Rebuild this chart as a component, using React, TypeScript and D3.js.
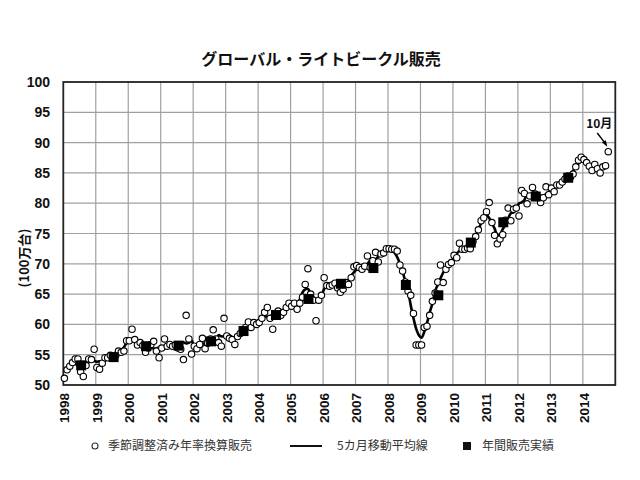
import React from "react";
import * as d3 from "d3";

// ---- data ----
const startYear = 1998;
// Seasonally adjusted annualized monthly sales (millions), Jan 1998 - Oct 2014
const monthlySales: number[] = [
  51.1, 52.5, 53.1, 53.7, 54.3, 54.3, 52.2, 51.4, 53.2, 54.3, 54.2, 55.9, // 1998
  52.9, 52.6, 53.6, 54.5, 54.5, 54.9, 54.6, 54.9, 55.6, 55.4, 55.6, 57.3, // 1999
  57.3, 59.2, 57.5, 56.6, 57.0, 56.5, 55.4, 56.1, 56.7, 57.2, 55.6, 54.5, // 2000
  56.1, 57.6, 56.4, 56.7, 56.4, 56.6, 56.1, 55.9, 54.2, 61.5, 57.6, 55.1, // 2001
  56.4, 56.0, 56.7, 57.7, 56.0, 56.9, 57.6, 59.1, 57.6, 57.0, 56.4, 61.0, // 2002
  58.1, 57.7, 57.5, 56.7, 58.0, 58.5, 59.0, 59.5, 60.4, 59.5, 60.3, 60.0, // 2003
  60.3, 61.0, 62.0, 62.8, 61.0, 59.2, 61.8, 62.2, 61.5, 62.0, 62.8, 63.5, // 2004
  63.0, 63.5, 62.5, 63.5, 64.5, 66.6, 69.2, 65.0, 64.0, 60.6, 64.0, 64.8, // 2005
  67.7, 66.4, 66.3, 66.5, 66.8, 66.0, 65.3, 65.8, 66.9, 66.6, 67.7, 69.5, // 2006
  69.7, 69.4, 69.1, 69.6, 71.3, 69.4, 70.5, 71.9, 70.3, 71.6, 71.8, 72.5, // 2007
  72.5, 72.4, 72.4, 72.1, 69.8, 68.8, 67.0, 65.5, 64.8, 61.8, 56.6, 56.6, // 2008
  56.6, 59.5, 59.7, 61.5, 63.8, 65.2, 67.0, 69.8, 66.9, 69.1, 69.9, 70.2, // 2009
  71.4, 71.0, 73.4, 72.4, 72.4, 72.6, 72.5, 73.7, 74.5, 75.6, 77.1, 77.6, // 2010
  78.6, 80.1, 76.8, 74.7, 73.3, 74.1, 74.8, 77.2, 79.2, 77.1, 79.0, 79.2, // 2011
  77.9, 82.1, 81.6, 79.9, 81.2, 82.6, 81.5, 81.0, 80.1, 80.9, 82.7, 81.4, // 2012
  82.5, 81.9, 83.0, 83.0, 83.5, 84.0, 84.5, 84.3, 84.8, 86.0, 87.1, 87.6, // 2013
  87.2, 86.7, 86.1, 85.4, 86.4, 85.7, 85.0, 86.0, 86.2, 88.5,             // 2014
];

const annualYears = [1998, 1999, 2000, 2001, 2002, 2003, 2004, 2005, 2006, 2007, 2008, 2009, 2010, 2011, 2012, 2013];
const annualSales = [53.25, 54.6, 56.4, 56.5, 57.2, 58.9, 61.55, 64.2, 66.7, 69.3, 66.5, 64.8, 73.5, 76.85, 81.1, 84.2];

const yearTicks = [1998, 1999, 2000, 2001, 2002, 2003, 2004, 2005, 2006, 2007, 2008, 2009, 2010, 2011, 2012, 2013, 2014];
const valueTicks = [50, 55, 60, 65, 70, 75, 80, 85, 90, 95, 100];

const titleText = "グローバル・ライトビークル販売";
const yLabel = "(100万台)";
const legendLabels = ["季節調整済み年率換算販売", "5カ月移動平均線", "年間販売実績"];
const noteLabel = "10月";

const NUM_FONT = "'Liberation Sans', Arial, sans-serif";
const JP_FONT = "'Noto Sans CJK JP', 'Noto Sans', sans-serif";

export default function App() {
  const W = 640, H = 480;
  const left = 63.3, right = 615.3, top = 82, bottom = 385;
  const x = d3.scaleLinear().domain([1998, 2015]).range([left, right]);
  const y = d3.scaleLinear().domain([50, 100]).range([bottom, top]);

  const pts = monthlySales.map((v, i) => ({ t: startYear + (i + 0.4) / 12, v }));
  const ma = pts
    .map((p, i) =>
      i >= 2 && i < pts.length - 2
        ? { t: p.t, v: d3.mean(pts.slice(i - 2, i + 3), (d) => d.v) as number }
        : null
    )
    .filter((d): d is { t: number; v: number } => d !== null);

  const line = d3
    .line<{ t: number; v: number }>()
    .x((d) => x(d.t))
    .y((d) => y(d.v))
    .curve(d3.curveCatmullRom.alpha(0.5));

  const annual = annualYears.map((yr, i) => ({ t: yr + 0.55, v: annualSales[i] }));
  const last = pts[pts.length - 1];
  const lx = x(last.t), ly = y(last.v);

  const sq = 10;

  return (
    <svg
      width={W}
      height={H}
      style={{ position: "absolute", left: 0, top: 0, background: "#fff" }}
    >
      <rect x={0} y={0} width={W} height={H} fill="#fff" />
      {/* title */}
      <text x={321} y={65} textAnchor="middle" fontFamily={JP_FONT} fontWeight="bold" fontSize={16} fill="#111">
        {titleText}
      </text>

      {/* grid */}
      {yearTicks.slice(1).map((yr) => (
        <line key={"gx" + yr} x1={x(yr)} x2={x(yr)} y1={top} y2={bottom} stroke="#a0a0a0" strokeWidth={1.2} />
      ))}
      {valueTicks.slice(1, -1).map((v) => (
        <line key={"gy" + v} x1={left} x2={right} y1={y(v)} y2={y(v)} stroke="#a0a0a0" strokeWidth={1.2} />
      ))}
      <rect x={left} y={top} width={right - left} height={bottom - top} fill="none" stroke="#222" strokeWidth={1.8} />

      {/* y tick labels */}
      {valueTicks.map((v) => (
        <text key={"yl" + v} x={50} y={y(v)} dy="0.36em" textAnchor="end" fontFamily={NUM_FONT} fontWeight="bold" fontSize={14} fill="#111">
          {v}
        </text>
      ))}
      {/* x tick labels */}
      {yearTicks.map((yr) => (
        <text
          key={"xl" + yr}
          transform={`translate(${x(yr) + 1},393) rotate(-90)`}
          dy="0.36em"
          textAnchor="end"
          fontFamily={NUM_FONT}
          fontWeight="bold"
          fontSize={13.5}
          fill="#111"
        >
          {yr}
        </text>
      ))}
      {/* y axis label */}
      <text transform="translate(24,258) rotate(-90)" dy="0.36em" textAnchor="middle" fontFamily={JP_FONT} fontWeight="bold" fontSize={13} fill="#111">
        {yLabel}
      </text>

      {/* moving average line */}
      <path d={line(ma) || ""} fill="none" stroke="#000" strokeWidth={2.6} strokeLinejoin="round" />

      {/* monthly points */}
      {pts.map((p, i) => (
        <circle key={"p" + i} cx={x(p.t)} cy={y(p.v)} r={3.2} fill="#fff" stroke="#000" strokeWidth={1.1} />
      ))}

      {/* annual squares */}
      {annual.map((a, i) => (
        <rect key={"a" + i} x={x(a.t) - sq / 2} y={y(a.v) - sq / 2} width={sq} height={sq} fill="#000" />
      ))}

      {/* annotation */}
      <text x={lx - 9} y={128} textAnchor="middle" fontFamily={JP_FONT} fontWeight="bold" fontSize={12} fill="#111">
        {noteLabel}
      </text>
      <line x1={lx - 11} y1={133} x2={lx - 2} y2={ly - 7} stroke="#000" strokeWidth={1.4} />
      <path
        d={`M${lx - 1},${ly - 5} L${lx - 6.5},${ly - 9.5} L${lx - 2.5},${ly - 11.5} Z`}
        fill="#000"
      />

      {/* legend */}
      <circle cx={95} cy={446} r={3} fill="#fff" stroke="#333" strokeWidth={1.1} />
      <text x={108} y={446} dy="0.36em" fontFamily={JP_FONT} fontSize={12} fill="#333">
        {legendLabels[0]}
      </text>
      <line x1={290} x2={322} y1={446} y2={446} stroke="#111" strokeWidth={2} />
      <text x={337} y={446} dy="0.36em" fontFamily={JP_FONT} fontSize={12} fill="#333">
        {legendLabels[1]}
      </text>
      <rect x={463} y={442} width={8} height={8} fill="#111" />
      <text x={482} y={446} dy="0.36em" fontFamily={JP_FONT} fontSize={12} fill="#333">
        {legendLabels[2]}
      </text>
    </svg>
  );
}
